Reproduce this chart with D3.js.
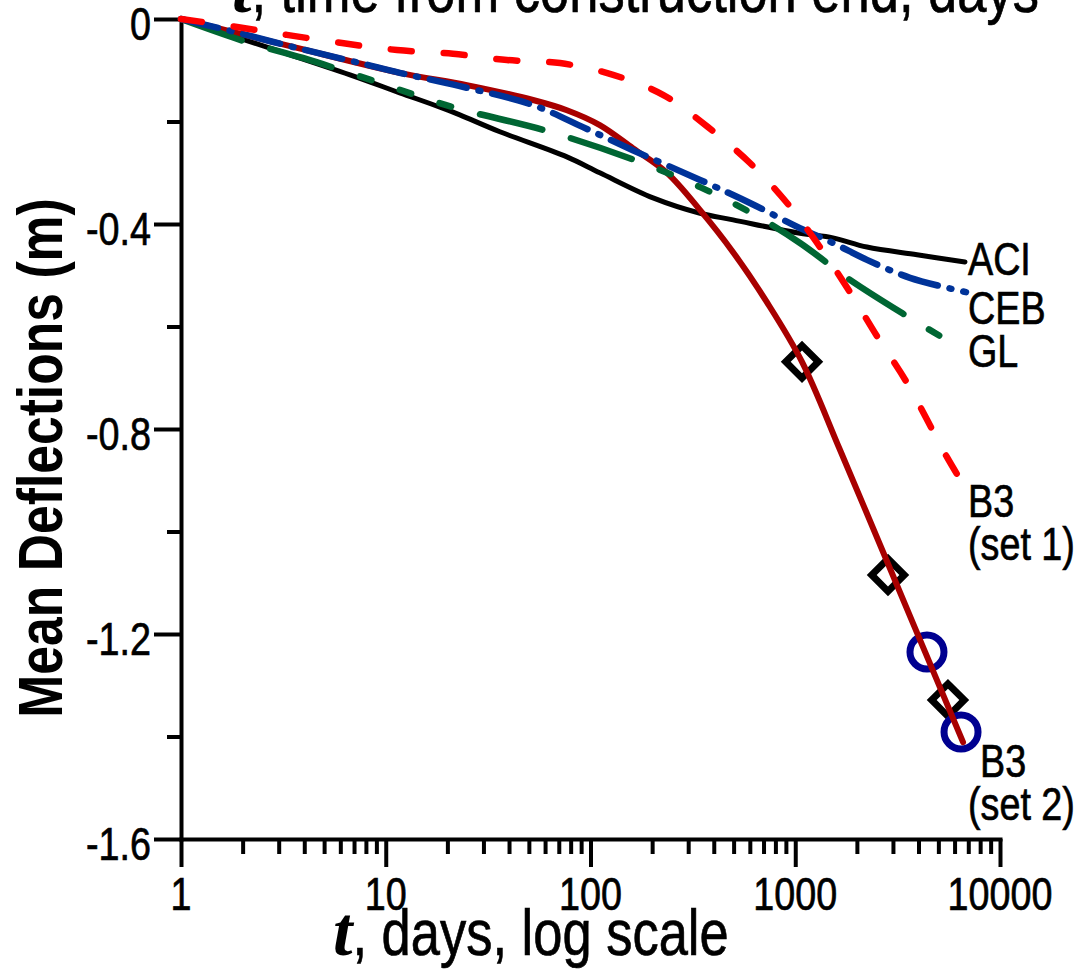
<!DOCTYPE html>
<html>
<head>
<meta charset="utf-8">
<script src="https://cdn.jsdelivr.net/npm/d3@7"></script>
<style>
  body { margin: 0; background: #fff; }
  svg text { font-family: "Liberation Sans", Arial, sans-serif; }
</style>
</head>
<body>
<svg id="chart" width="1087" height="973"></svg>
<script>
// Mean deflection (m) versus time after construction end (days)
const xTickLabels = ["1", "10", "100", "1000", "10000"];
const yTickLabels = ["0", "-0.4", "-0.8", "-1.2", "-1.6"];

const aci = [[1, 0], [2.72, -0.057], [6.69, -0.109], [11.7, -0.144], [18.4, -0.172], [23, -0.187],
  [36.1, -0.220], [76.7, -0.269], [111, -0.300], [202, -0.349], [343, -0.379], [497, -0.392],
  [1055, -0.418], [1528, -0.427], [2240, -0.445], [3934, -0.460], [6745, -0.474]];

const ceb = [[1, 0], [1.68, -0.0215], [3.52, -0.0546], [7.48, -0.0859], [11.7, -0.105], [23, -0.131],
  [52.4, -0.168], [91.9, -0.211], [161, -0.256], [343, -0.314], [601, -0.359], [1055, -0.408],
  [1528, -0.437], [2240, -0.470], [3634, -0.505], [6823, -0.533]];

const gl = [[1, 0], [2.10, -0.045], [3.94, -0.076], [9.06, -0.123], [21.3, -0.172], [61.3, -0.2185],
  [169, -0.277], [343, -0.328], [601, -0.377], [1055, -0.437], [1851, -0.509], [3553, -0.581],
  [5270, -0.622]];

const b3Set1 = [[1, 0], [1.88, -0.0156], [3.29, -0.031], [6.11, -0.047], [11.35, -0.0605], [21.3, -0.068],
  [39.1, -0.080], [71, -0.086], [129, -0.109], [226, -0.148], [375, -0.211], [601, -0.281],
  [912, -0.359], [1321, -0.445], [1851, -0.533], [2535, -0.622], [3514, -0.710], [5510, -0.855],
  [6823, -0.917]];

const b3Set2 = [[1, 0], [3.41, -0.053], [11.7, -0.105], [24.9, -0.129], [52.4, -0.158], [76.7, -0.178],
  [111, -0.207], [161, -0.252], [236, -0.300], [343, -0.373], [497, -0.455], [728, -0.553],
  [1079, -0.669], [1655, -0.841], [2805, -1.058], [4305, -1.235], [6598, -1.411]];

// measured deflections
const diamondPoints = [[1079, -0.669], [2838, -1.085], [5570, -1.329]];
const circlePoints = [[4399, -1.235], [6452, -1.391]];

const svg = d3.select("#chart");
svg.append("rect").attr("width", 1087).attr("height", 973).attr("fill", "#fff");

const x = d3.scaleLog().domain([1, 10000]).range([181, 1000]);
const y = d3.scaleLinear().domain([0, -1.6]).range([19, 839]);

const fontSize = 46;
const narrow = 0.82; // horizontal squeeze giving a condensed sans face

// text drawn in a condensed face: anchored at (px, py), squeezed horizontally
function narrowText(parent, px, py, str, size, anchor, weight) {
  const t = parent.append("text")
    .attr("transform", `translate(${px},${py}) scale(${narrow},1)`)
    .attr("text-anchor", anchor || "start")
    .style("font-size", size + "px")
    .style("font-weight", weight || "normal")
    .attr("fill", "#000")
    .text(str);
  if (!weight) t.attr("stroke", "#000").attr("stroke-width", 0.7);
  return t;
}

// ---- axes ----
const xTicks = [];
for (let p = 0; p < 4; p++) for (let k = 1; k < 10; k++) xTicks.push(k * Math.pow(10, p));
xTicks.push(10000);
const isDecade = v => Math.abs(Math.log10(v) - Math.round(Math.log10(v))) < 1e-9;

const xAxis = d3.axisBottom(x).tickValues(xTicks).tickSize(28).tickSizeOuter(0).tickFormat("");
const gx = svg.append("g").attr("transform", `translate(0,${y(-1.6)})`).call(xAxis);
gx.selectAll(".tick line").filter(v => !isDecade(v)).attr("y2", 15);

const yTicks = d3.range(0, 9).map(i => -i * 0.2);
const yAxis = d3.axisLeft(y).tickValues(yTicks).tickSize(27).tickSizeOuter(0).tickFormat("");
const gy = svg.append("g").attr("transform", `translate(${x(1)},0)`).call(yAxis);
gy.selectAll(".tick line").filter((v, i) => i % 2 === 1).attr("x2", -14);

[gx, gy].forEach(g => {
  g.selectAll("text").remove();
  g.selectAll("path.domain").attr("stroke", "#000").attr("stroke-width", 4).attr("stroke-linecap", "square");
  g.selectAll(".tick line").attr("stroke", "#000").attr("stroke-width", 4);
});

// tick labels
const tickLabelG = svg.append("g");
xTicks.filter(isDecade).forEach(v => {
  narrowText(tickLabelG, x(v), y(-1.6) + 71, xTickLabels[Math.round(Math.log10(v))], fontSize, "middle");
});
yTicks.filter((v, i) => i % 2 === 0).forEach((v, i) => {
  narrowText(tickLabelG, x(1) - 30, y(v) + 21, yTickLabels[i], fontSize, "end");
});

// ---- measured markers ----
svg.append("g").selectAll("path")
  .data(diamondPoints).join("path")
  .attr("d", d3.symbol(d3.symbolSquare, 530))
  .attr("transform", d => `translate(${x(d[0])},${y(d[1])}) rotate(45)`)
  .attr("fill", "none").attr("stroke", "#000").attr("stroke-width", 7);

svg.append("g").selectAll("circle")
  .data(circlePoints).join("circle")
  .attr("cx", d => x(d[0])).attr("cy", d => y(d[1])).attr("r", 17)
  .attr("fill", "none").attr("stroke", "#000090").attr("stroke-width", 7);

// ---- model curves ----
const line = d3.line().x(d => x(d[0])).y(d => y(d[1])).curve(d3.curveCatmullRom.alpha(0.5));

const curves = [
  { data: aci, color: "#000000", width: 5, dash: null },
  { data: b3Set2, color: "#a80000", width: 6, dash: null },
  { data: gl, color: "#006633", width: 6.5, dash: "64,30,64,30,12,30,12,30,12,30" },
  { data: ceb, color: "#003399", width: 6.5, dash: "38,12,2,12" },
  { data: b3Set1, color: "#ff0000", width: 6.5, dash: "21,32" }
];

svg.append("g").selectAll("path")
  .data(curves).join("path")
  .attr("d", c => line(c.data))
  .attr("fill", "none")
  .attr("stroke", c => c.color)
  .attr("stroke-width", c => c.width)
  .attr("stroke-linecap", "round")
  .attr("stroke-linejoin", "round")
  .attr("stroke-dasharray", c => c.dash);

// ---- curve labels, anchored to each curve's last point ----
const curveLabels = [
  { data: aci, lines: ["ACI"], dx: 3, dy: 13 },
  { data: ceb, lines: ["CEB"], dx: 2, dy: 32 },
  { data: gl, lines: ["GL"], dx: 25, dy: 29 },
  { data: b3Set1, lines: ["B3", "(set 1)"], dx: 2, dy: 28 },
  { data: b3Set2, lines: ["B3", "(set 2)"], dx: 17, dy: 35, dx2: 5 }
];

const labelG = svg.append("g");
curveLabels.forEach(lb => {
  const last = lb.data[lb.data.length - 1];
  const px = x(last[0]), py = y(last[1]);
  lb.lines.forEach((t, i) => {
    const dx = i === 0 ? lb.dx : (lb.dx2 !== undefined ? lb.dx2 : lb.dx);
    narrowText(labelG, px + dx, py + lb.dy + i * 43, t, fontSize, "start");
  });
});

// ---- axis titles: bold italic serif "t" followed by condensed text ----
function axisTitle(xPos, yPos, rest) {
  const g = svg.append("g");
  const t = g.append("text")
    .attr("x", xPos).attr("y", yPos)
    .style("font-family", "'Liberation Serif', 'DejaVu Serif', serif")
    .style("font-weight", "bold").style("font-style", "italic")
    .style("font-size", "70px").attr("fill", "#000")
    .text("t");
  const w = t.node().getComputedTextLength();
  narrowText(g, xPos + w, yPos, rest, 64, "start");
}
axisTitle(333, 955, ", days, log scale");
axisTitle(232, 12, ", time from construction end, days");

svg.append("text")
  .attr("transform", `translate(62,458) rotate(-90) scale(${narrow},1)`)
  .attr("text-anchor", "middle")
  .style("font-size", "63px").style("font-weight", "bold")
  .attr("fill", "#000")
  .text("Mean Deflections (m)");
</script>
</body>
</html>
